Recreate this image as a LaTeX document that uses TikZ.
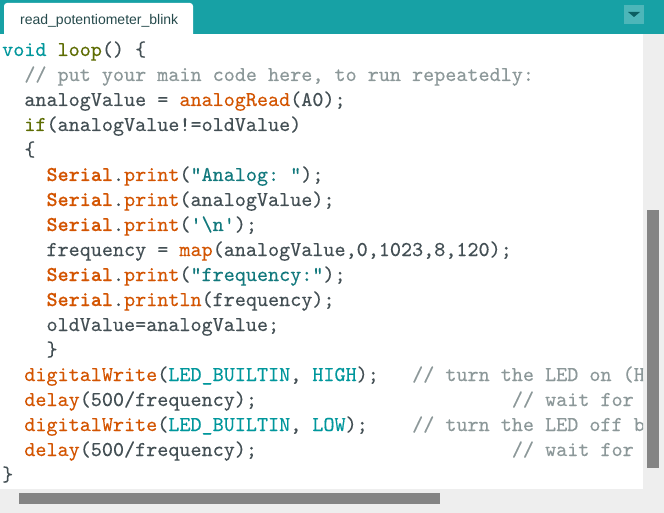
\documentclass[tikz,border=0pt]{standalone}
\usepackage{fontspec}
\newfontfamily\tabfont{Liberation Sans}
\newfontfamily\codemono{lmmono10-regular.otf}[FakeBold=0.25,BoldFont=lmmonolt10-bold.otf,BoldFeatures={FakeBold=0.2}]
\definecolor{ardteal}{HTML}{17A1A5}
\definecolor{btnteal}{HTML}{4DB6B9}
\definecolor{tridark}{HTML}{0B5E61}
\definecolor{trackgray}{HTML}{EEEEEE}
\definecolor{thumbgray}{HTML}{848484}
\definecolor{tabink}{HTML}{264A4C}
\definecolor{plaintext}{HTML}{434F54}
\definecolor{kwteal}{HTML}{00979C}
\definecolor{olive}{HTML}{5E6D03}
\definecolor{fnorange}{HTML}{D35400}
\definecolor{strteal}{HTML}{12797D}
\definecolor{cmtgray}{HTML}{8C9899}
\newcommand\codefont{\codemono\fontsize{21.1}{25}\selectfont\frenchspacing}
\newcommand\kwd[1]{\textcolor{kwteal}{#1}}
\newcommand\olv[1]{\textcolor{olive}{#1}}
\newcommand\fnc[1]{\textcolor{fnorange}{#1}}
\newcommand\strg[1]{\textcolor{strteal}{#1}}
\newcommand\cnst[1]{\textcolor{kwteal}{#1}}
\newcommand\serial{\textcolor{fnorange}{\bfseries Serial}}
\usetikzlibrary{calc}

\begin{document}
\begin{tikzpicture}[x=1pt,y=-1pt,
	codeline/.style={anchor=base west,inner sep=0pt,font=\codefont,text=plaintext},
	cmtline/.style={codeline,text=cmtgray},
	tablabel/.style={anchor=base west,inner sep=0pt,font=\tabfont\fontsize{14}{14}\selectfont,text=tabink}]
	\useasboundingbox (0,0) rectangle (664,513);
	% window frame
	\fill[trackgray] (0,0) rectangle (664,513);
	\fill[ardteal] (0,0) rectangle (664,34);
	\fill[white] (0,34) rectangle (643,489);
	% tab and menu button
	\fill[white] (4,40) [rounded corners=3pt] -- (4,3) -- (193,3) [sharp corners] -- (193,40) -- cycle;
	\node[tablabel] (tabname) at (20,25) {read\_potentiometer\_blink};
	\fill[btnteal] (624,5) rectangle (644,24);
	\fill[tridark] (628,12) -- (640,12) -- (634,17) -- cycle;
	% scrollbars
	\fill[thumbgray] (647,210) rectangle (659,468);
	\fill[thumbgray] (19,493) rectangle (440,504);
	% code
	\begin{scope}
		\clip (0,34) rectangle (643,489);
		\foreach \n/\col/\txt in {
			0/0/{\kwd{void} \olv{loop}() \{},
			1/2/{\textcolor{cmtgray}{// put your main code here, to run repeatedly:}},
			2/2/{analogValue = \fnc{analogRead}(A0);},
			3/2/{\olv{if}(analogValue!=oldValue)},
			4/2/{\{},
			5/4/{\serial.\fnc{print}(\strg{\textquotedbl Analog: \textquotedbl});},
			6/4/{\serial.\fnc{print}(analogValue);},
			7/4/{\serial.\fnc{print}(\strg{\textquotesingle\textbackslash n\textquotesingle});},
			8/4/{frequency = \fnc{map}(analogValue,0,1023,8,120);},
			9/4/{\serial.\fnc{print}(\strg{\textquotedbl frequency:\textquotedbl});},
			10/4/{\serial.\fnc{println}(frequency);},
			11/4/{oldValue=analogValue;},
			12/4/{\}},
			13/2/{\fnc{digitalWrite}(\cnst{LED\_BUILTIN}, \cnst{HIGH});},
			14/2/{\fnc{delay}(500/frequency);},
			15/2/{\fnc{digitalWrite}(\cnst{LED\_BUILTIN}, \cnst{LOW});},
			16/2/{\fnc{delay}(500/frequency);},
			17/0/{\}}}{
			\node[codeline] (line\n) at ({2+11.08*\col},{56+25*\n}) {\txt};
		}
		% trailing comments
		\foreach \n/\col/\txt in {
			13/37/{// turn the LED on (H},
			14/46/{// wait for},
			15/37/{// turn the LED off b},
			16/46/{// wait for}}{
			\node[cmtline] (note\n) at ({2+11.08*\col},{56+25*\n}) {\txt};
		}
	\end{scope}
\end{tikzpicture}
\end{document}
